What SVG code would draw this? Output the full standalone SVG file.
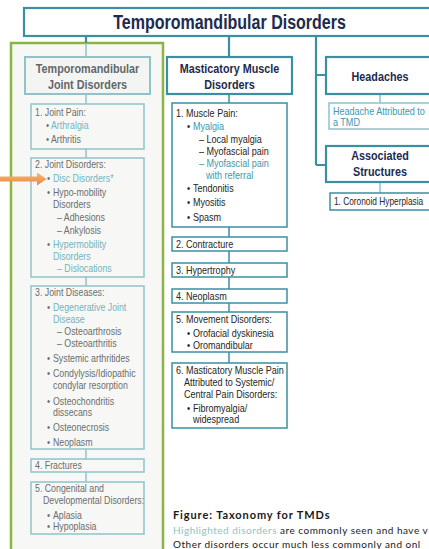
<svg xmlns="http://www.w3.org/2000/svg" width="429" height="549" viewBox="0 0 429 549">
<style>
text{font-family:"Liberation Sans",Arial,sans-serif;}
.t{font-size:20px;font-weight:bold;fill:#1d2b4f;text-anchor:middle;}
.h{font-size:13.5px;font-weight:bold;fill:#1d2b4f;text-anchor:middle;}
.hf{font-size:13.5px;font-weight:bold;fill:#62676b;text-anchor:middle;}
.b{font-size:11.3px;fill:#262626;}
.bf{font-size:11px;fill:#6a6e70;}
.hl{font-size:11.3px;fill:#3d98ad;}
.hlf{font-size:11px;fill:#72b4bf;}
.main{fill:#fff;stroke:#3b8fa3;stroke-width:2.2;}
.mbox{fill:#fff;stroke:#3b8fa3;stroke-width:1.5;}
.fbox{fill:#f7f8f5;stroke:#8fc4ca;stroke-width:1.5;}
.fhead{fill:#f3f5f2;stroke:#90c3c9;stroke-width:2;}
.lbox{fill:#fff;stroke:#8cc4cc;stroke-width:1.5;}
.c{stroke:#3b8fa3;stroke-width:2.2;fill:none;}
.cf{stroke:#8fc4ca;stroke-width:1.5;fill:none;}
.cm{stroke:#3b8fa3;stroke-width:1.5;fill:none;}
.cap{font-family:Lato,"Open Sans",sans-serif;}
</style>
<defs>
<linearGradient id="og" x1="0" y1="0" x2="0" y2="1">
<stop offset="0" stop-color="#f6b878"/>
<stop offset="1" stop-color="#e8863a"/>
</linearGradient>
</defs>

<rect id="green-frame" x="11" y="43" width="152" height="520" fill="#f7f8f5" stroke="#8cb443" stroke-width="2.5"/>

<g id="connectors">
<path class="c" d="M86 36V43"/>
<path class="cf" d="M86 43V57"/>
<path class="c" d="M229 36V57"/>
<path class="c" d="M316 36V165M316 75H326M316 165H326"/>
<path class="cf" d="M86 94V104M86 149V158M86 277V286M86 449V459M86 472V482"/>
<path class="cm" d="M229 94V103M229 227V237M229 251V263M229 277V289M229 303V312M229 352V363"/>
<path class="cf" d="M380 94V103M380 182V193"/>
</g>

<g id="root">
<rect class="main" x="24" y="8" width="420" height="28" stroke-width="2.5"/>
<g transform="scale(0.8,1)"><text class="t" x="286.9" y="29">Temporomandibular Disorders</text></g>
</g>

<g id="tmj">
<rect class="fhead" x="25" y="57" width="125" height="37"/>
<g transform="scale(0.8,1)">
<text class="hf" x="109.4" y="73">Temporomandibular</text>
<text class="hf" x="109.4" y="89">Joint Disorders</text>
</g>
</g>

<g id="tmj-1">
<rect class="fbox" x="31" y="104" width="113" height="45"/>
<g transform="scale(0.8,1)">
<text class="bf" x="43.75" y="116">1. Joint Pain:</text>
<text class="bf" x="57.5" y="129">•</text><text class="hlf" x="63.75" y="129">Arthralgia</text>
<text class="bf" x="57.5" y="143">•</text><text class="bf" x="63.75" y="143">Arthritis</text>
</g>
</g>

<g id="tmj-2">
<rect class="fbox" x="31" y="158" width="113" height="119"/>
<g transform="scale(0.8,1)">
<text class="bf" x="43.75" y="168">2. Joint Disorders:</text>
<text class="bf" x="58.75" y="182">•</text><text class="hlf" x="66.25" y="182">Disc Disorders*</text>
<text class="bf" x="58.75" y="196">•</text><text class="bf" x="66.25" y="196">Hypo-mobility</text>
<text class="bf" x="66.25" y="208">Disorders</text>
<text class="bf" x="71.25" y="221">– Adhesions</text>
<text class="bf" x="71.25" y="234">– Ankylosis</text>
<text class="bf" x="58.75" y="248">•</text><text class="hlf" x="66.25" y="248">Hypermobility</text>
<text class="hlf" x="66.25" y="260">Disorders</text>
<text class="hlf" x="71.25" y="272">– Dislocations</text>
</g>
</g>

<g id="tmj-3">
<rect class="fbox" x="31" y="286" width="113" height="163"/>
<g transform="scale(0.8,1)">
<text class="bf" x="43.75" y="296">3. Joint Diseases:</text>
<text class="bf" x="58.75" y="311">•</text><text class="hlf" x="66.25" y="311">Degenerative Joint</text>
<text class="hlf" x="66.25" y="323">Disease</text>
<text class="bf" x="71.25" y="335">– Osteoarthrosis</text>
<text class="bf" x="71.25" y="347">– Osteoarthritis</text>
<text class="bf" x="58.75" y="362">•</text><text class="bf" x="66.25" y="362">Systemic arthritides</text>
<text class="bf" x="58.75" y="377">•</text><text class="bf" x="66.25" y="377">Condylysis/Idiopathic</text>
<text class="bf" x="66.25" y="389">condylar resorption</text>
<text class="bf" x="58.75" y="405">•</text><text class="bf" x="66.25" y="405">Osteochondritis</text>
<text class="bf" x="66.25" y="416">dissecans</text>
<text class="bf" x="58.75" y="431">•</text><text class="bf" x="66.25" y="431">Osteonecrosis</text>
<text class="bf" x="58.75" y="446">•</text><text class="bf" x="66.25" y="446">Neoplasm</text>
</g>
</g>

<g id="tmj-4">
<rect class="fbox" x="31" y="459" width="113" height="13"/>
<g transform="scale(0.8,1)"><text class="bf" x="43.75" y="469.5">4. Fractures</text></g>
</g>

<g id="tmj-5">
<rect class="fbox" x="31" y="482" width="113" height="52"/>
<g transform="scale(0.8,1)">
<text class="bf" x="43.75" y="492">5. Congenital and</text>
<text class="bf" x="53.75" y="504">Developmental Disorders:</text>
<text class="bf" x="58.75" y="519">•</text><text class="bf" x="66.25" y="519">Aplasia</text>
<text class="bf" x="58.75" y="530">•</text><text class="bf" x="66.25" y="530">Hypoplasia</text>
</g>
</g>

<g id="arrow">
<path d="M0 176.5H37V172.5L46.5 179L37 185.5V181.5H0Z" fill="url(#og)"/>
</g>

<g id="mm">
<rect class="main" x="167" y="57" width="125" height="37" stroke-width="2"/>
<g transform="scale(0.8,1)">
<text class="h" x="286.9" y="73">Masticatory Muscle</text>
<text class="h" x="286.9" y="89">Disorders</text>
</g>
</g>

<g id="mm-1">
<rect class="mbox" x="172" y="103" width="115" height="124"/>
<g transform="scale(0.8,1)">
<text class="b" x="220" y="117">1. Muscle Pain:</text>
<text class="b" x="233.75" y="130">•</text><text class="hl" x="241.25" y="130">Myalgia</text>
<text class="b" x="248.75" y="143">– Local myalgia</text>
<text class="b" x="248.75" y="155">– Myofascial pain</text>
<text class="hl" x="248.75" y="167">– Myofascial pain</text>
<text class="hl" x="257.5" y="179">with referral</text>
<text class="b" x="233.75" y="192">•</text><text class="b" x="241.25" y="192">Tendonitis</text>
<text class="b" x="233.75" y="206">•</text><text class="b" x="241.25" y="206">Myositis</text>
<text class="b" x="233.75" y="221">•</text><text class="b" x="241.25" y="221">Spasm</text>
</g>
</g>

<g id="mm-2">
<rect class="mbox" x="172" y="237" width="115" height="14"/>
<g transform="scale(0.8,1)"><text class="b" x="220" y="248">2. Contracture</text></g>
</g>
<g id="mm-3">
<rect class="mbox" x="172" y="263" width="115" height="14"/>
<g transform="scale(0.8,1)"><text class="b" x="220" y="274">3. Hypertrophy</text></g>
</g>
<g id="mm-4">
<rect class="mbox" x="172" y="289" width="115" height="14"/>
<g transform="scale(0.8,1)"><text class="b" x="220" y="300">4. Neoplasm</text></g>
</g>
<g id="mm-5">
<rect class="mbox" x="172" y="312" width="115" height="40"/>
<g transform="scale(0.8,1)">
<text class="b" x="220" y="323">5. Movement Disorders:</text>
<text class="b" x="233.75" y="337">•</text><text class="b" x="241.25" y="337">Orofacial dyskinesia</text>
<text class="b" x="233.75" y="349">•</text><text class="b" x="241.25" y="349">Oromandibular</text>
</g>
</g>
<g id="mm-6">
<rect class="mbox" x="172" y="363" width="115" height="65"/>
<g transform="scale(0.8,1)">
<text class="b" x="220" y="374">6. Masticatory Muscle Pain</text>
<text class="b" x="230" y="386">Attributed to Systemic/</text>
<text class="b" x="230" y="398">Central Pain Disorders:</text>
<text class="b" x="233.75" y="412">•</text><text class="b" x="241.25" y="412">Fibromyalgia/</text>
<text class="b" x="241.25" y="423">widespread</text>
</g>
</g>

<g id="headaches">
<rect class="main" x="326" y="57" width="120" height="37" stroke-width="2"/>
<g transform="scale(0.8,1)"><text class="h" x="475" y="81">Headaches</text></g>
</g>
<g id="headache-tmd">
<rect class="lbox" x="329" y="103" width="120" height="26"/>
<g transform="scale(0.8,1)">
<text class="hl" x="416.25" y="115">Headache Attributed to</text>
<text class="hl" x="416.25" y="126">a TMD</text>
</g>
</g>
<g id="associated">
<rect class="main" x="326" y="146" width="120" height="36" stroke-width="2"/>
<g transform="scale(0.8,1)">
<text class="h" x="475" y="160">Associated</text>
<text class="h" x="475" y="176">Structures</text>
</g>
</g>
<g id="coronoid">
<rect class="mbox" x="330" y="193" width="110" height="17"/>
<g transform="scale(0.8,1)"><text class="b" x="417.5" y="205" style="font-size:10.4px">1. Coronoid Hyperplasia</text></g>
</g>

<g id="caption">
<text class="cap" x="173" y="519" font-size="11" font-weight="bold" letter-spacing="0.9" fill="#1a1a1a">Figure: Taxonomy for TMDs</text>
<text class="cap" x="173" y="534" font-size="10" letter-spacing="0.5" fill="#1a1a1a"><tspan fill="#8cc3c3">Highlighted disorders</tspan> are commonly seen and have v</text>
<text class="cap" x="173" y="548" font-size="10" letter-spacing="0.5" fill="#1a1a1a">Other disorders occur much less commonly and onl</text>
</g>
</svg>
